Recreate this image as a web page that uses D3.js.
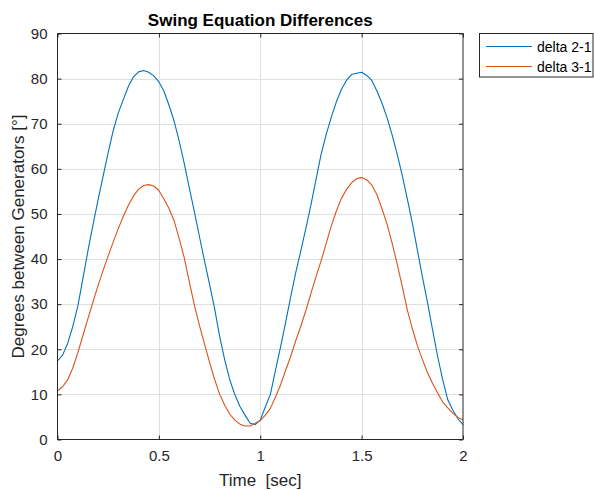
<!DOCTYPE html>
<html>
<head>
<meta charset="utf-8">
<script src="https://cdn.jsdelivr.net/npm/d3@7/dist/d3.min.js"></script>
<style>
  html, body { margin: 0; padding: 0; background: #fff; }
  svg { display: block; font-family: "Liberation Sans", Arial, Helvetica, sans-serif; }
</style>
</head>
<body>
<svg id="chart" width="594" height="490"></svg>
<script>
// ---- data ----
const timeStep = 0.025;
const delta21 = [
  17.4, 18.7, 21.3, 25.0, 29.5, 35.6, 41.8, 47.6, 53.1, 58.4,
  63.6, 68.5, 72.4, 75.4, 78.3, 80.4, 81.5, 81.8, 81.4, 80.6,
  79.3, 77.2, 74.1, 70.6, 66.2, 61.2, 55.8, 50.5, 45.0, 39.6,
  34.4, 29.0, 22.8, 17.6, 13.2, 9.9, 7.3, 5.4, 3.6, 3.3,
  4.3, 7.2, 10.0, 15.3, 20.5, 25.9, 31.6, 37.0, 41.8, 46.8,
  52.0, 57.6, 63.2, 67.6, 71.4, 74.8, 77.6, 79.6, 80.9, 81.2,
  81.4, 80.7, 79.6, 77.3, 74.6, 71.4, 67.6, 63.3, 58.6, 53.4,
  48.0, 42.0, 36.0, 30.4, 24.3, 18.4, 13.2, 8.8, 6.5, 4.6,
  3.3
];
const delta31 = [
  10.8, 11.7, 13.2, 15.8, 19.2, 23.0, 26.8, 30.5, 34.1, 37.5,
  40.7, 43.8, 46.8, 49.5, 52.0, 54.0, 55.5, 56.3, 56.5, 56.2,
  55.2, 53.3, 51.2, 48.5, 44.6, 40.3, 35.0, 29.8, 25.3, 21.2,
  17.1, 13.3, 10.0, 7.6, 5.6, 4.3, 3.4, 3.0, 3.0, 3.6,
  4.2, 5.4, 6.9, 9.4, 12.1, 15.3, 18.4, 21.9, 25.1, 28.6,
  32.4, 36.1, 39.6, 43.4, 47.3, 50.6, 53.4, 55.4, 56.9, 57.8,
  58.1, 57.6, 56.4, 54.3, 51.2, 47.8, 43.6, 39.0, 34.0, 28.8,
  24.6, 20.8, 17.7, 14.8, 12.4, 10.3, 8.3, 7.0, 5.8, 4.9,
  4.4
];
const seriesNames = ["delta 2-1", "delta 3-1"];
const seriesColors = ["#0072BD", "#D95319"];
const xTicks = [0, 0.5, 1, 1.5, 2];
const yTicks = [0, 10, 20, 30, 40, 50, 60, 70, 80, 90];
const titleText = "Swing Equation Differences";
const xLabel = "Time  [sec]";
const yLabel = "Degrees between Generators [°]";

// ---- layout ----
const svg = d3.select("#chart");
const L = 57.5, R = 463, T = 33.5, B = 439.5;
const axisColor = "#262626";
const x = d3.scaleLinear().domain([0, 2]).range([L, R]);
const y = d3.scaleLinear().domain([0, 90]).range([B, T]);

// grid
const grid = svg.append("g");
grid.selectAll("line.v").data(xTicks.slice(1, -1)).enter().append("line")
  .attr("x1", d => Math.round(x(d)) + 0.5).attr("x2", d => Math.round(x(d)) + 0.5)
  .attr("y1", T).attr("y2", B).attr("stroke", "#dfdfdf").attr("stroke-width", 1);
grid.selectAll("line.h").data(yTicks.slice(1, -1)).enter().append("line")
  .attr("y1", d => Math.round(y(d)) + 0.5).attr("y2", d => Math.round(y(d)) + 0.5)
  .attr("x1", L).attr("x2", R).attr("stroke", "#dfdfdf").attr("stroke-width", 1);

// lines
const pts = arr => arr.map((v, i) => [i * timeStep, v]);
const line = d3.line().x(d => x(d[0])).y(d => y(d[1]));
[delta21, delta31].forEach((arr, i) => {
  svg.append("path").datum(pts(arr))
    .attr("fill", "none").attr("stroke", seriesColors[i])
    .attr("stroke-width", 1.1).attr("stroke-linejoin", "round")
    .attr("d", line);
});

// axes
function styleAxis(g, showLabels) {
  g.select(".domain").remove();
  g.selectAll(".tick line").attr("stroke", axisColor);
  g.selectAll(".tick text").attr("fill", axisColor).attr("font-size", "15px")
    .attr("font-family", "Liberation Sans, Arial, sans-serif");
  if (!showLabels) g.selectAll(".tick text").remove();
}
const fmt = d => String(d);
svg.append("g").attr("transform", `translate(0,${B})`)
  .call(d3.axisBottom(x).tickValues(xTicks).tickFormat(fmt).tickSizeInner(-4).tickSizeOuter(0).tickPadding(11))
  .call(g => styleAxis(g, true));
svg.append("g").attr("transform", `translate(0,${T})`)
  .call(d3.axisTop(x).tickValues(xTicks).tickSizeInner(-4).tickSizeOuter(0))
  .call(g => styleAxis(g, false));
svg.append("g").attr("transform", `translate(${L},0)`)
  .call(d3.axisLeft(y).tickValues(yTicks).tickFormat(fmt).tickSizeInner(-4).tickSizeOuter(0).tickPadding(10))
  .call(g => styleAxis(g, true));
svg.append("g").attr("transform", `translate(${R},0)`)
  .call(d3.axisRight(y).tickValues(yTicks).tickSizeInner(-4).tickSizeOuter(0))
  .call(g => styleAxis(g, false));

// box
svg.append("rect").attr("x", L).attr("y", T).attr("width", R - L).attr("height", B - T)
  .attr("fill", "none").attr("stroke", axisColor).attr("stroke-width", 1);

// title & labels
svg.append("text").attr("x", (L + R) / 2).attr("y", 26).attr("text-anchor", "middle")
  .attr("font-size", "17px").attr("font-weight", "bold").attr("fill", "#000").text(titleText);
svg.append("text").attr("x", (L + R) / 2).attr("y", 486).attr("text-anchor", "middle")
  .attr("font-size", "17px").attr("fill", axisColor).style("white-space", "pre").text(xLabel);
svg.append("text").attr("transform", `translate(24,${(T + B) / 2}) rotate(-90)`)
  .attr("text-anchor", "middle").attr("font-size", "17px").attr("fill", axisColor).text(yLabel);

// legend
const lg = svg.append("g");
lg.append("rect").attr("x", 479.5).attr("y", 33.5).attr("width", 113.5).attr("height", 43.5)
  .attr("fill", "#fff").attr("stroke", axisColor).attr("stroke-width", 1);
seriesNames.forEach((name, i) => {
  const ly = 46.5 + i * 20;
  lg.append("line").attr("x1", 486).attr("x2", 532).attr("y1", ly).attr("y2", ly)
    .attr("stroke", seriesColors[i]).attr("stroke-width", 1.1);
  lg.append("text").attr("x", 537).attr("y", ly + 5).attr("font-size", "14px")
    .attr("fill", "#000").text(name);
});
</script>
</body>
</html>
